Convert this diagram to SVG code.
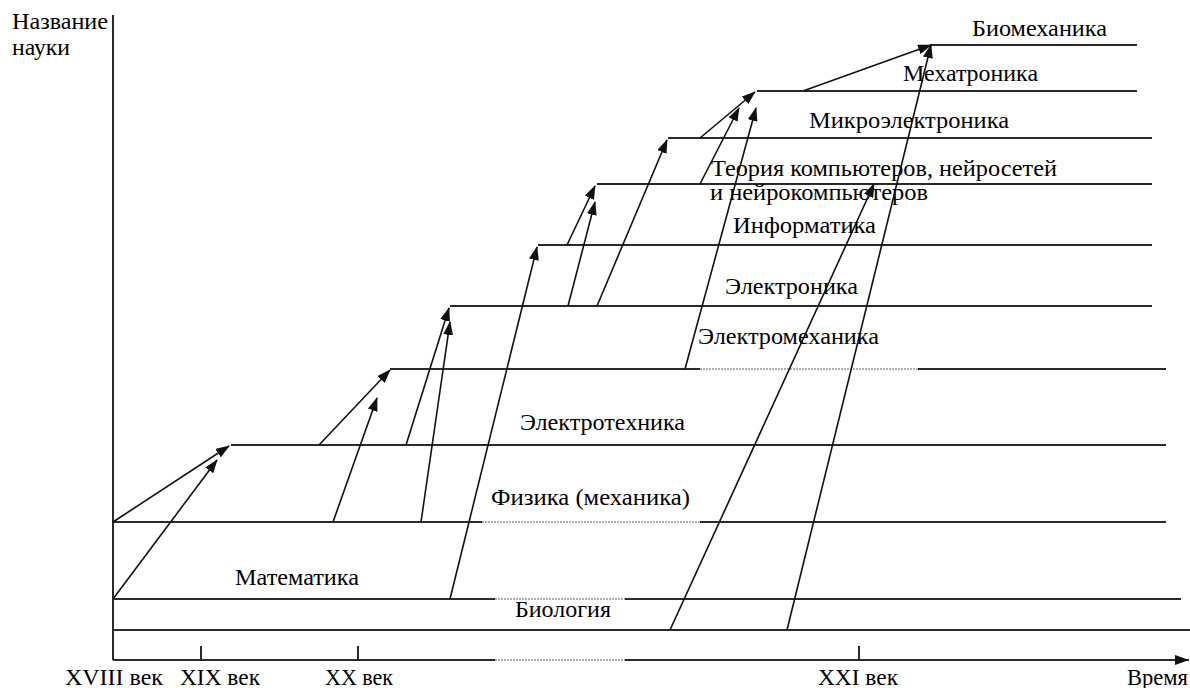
<svg xmlns="http://www.w3.org/2000/svg" width="1190" height="688" viewBox="0 0 1190 688">
<style>
.lvl{stroke:#2a2a2a;stroke-width:2;fill:none}
.faint{stroke:#b0b0b0;stroke-width:2;stroke-dasharray:2 1;fill:none}
.arr{stroke:#111;stroke-width:1.6;fill:none;marker-end:url(#ah)}
.ax{stroke:#2a2a2a;stroke-width:2;fill:none}
text{font-family:"Liberation Serif","Times New Roman",serif;font-size:24px;fill:#000}
</style>
<defs>
<marker id="ah" markerUnits="userSpaceOnUse" markerWidth="14" markerHeight="10" viewBox="0 0 14 10" refX="13" refY="5" orient="auto">
<path d="M0,0 L14,5 L0,10 Z" fill="#111"/>
</marker>
<marker id="axh" markerUnits="userSpaceOnUse" markerWidth="14" markerHeight="10" viewBox="0 0 14 10" refX="14" refY="5" orient="auto">
<path d="M0,0 L14,5 L0,10 Z" fill="#111"/>
</marker>
</defs>
<rect width="1190" height="688" fill="#fff"/>
<g id="axes">
<line class="ax" x1="113" y1="15" x2="113" y2="660"/>
<line class="ax" x1="113" y1="660" x2="495" y2="660"/>
<line class="faint" x1="495" y1="660" x2="625" y2="660"/>
<line class="ax" x1="625" y1="660" x2="1189" y2="660" marker-end="url(#axh)"/>
<line class="ax" x1="201" y1="646" x2="201" y2="660"/>
<line class="ax" x1="358" y1="646" x2="358" y2="660"/>
<line class="ax" x1="859" y1="646" x2="859" y2="660"/>
<text x="12" y="29" textLength="96" lengthAdjust="spacingAndGlyphs">Название</text>
<text x="12" y="55" textLength="58" lengthAdjust="spacingAndGlyphs">науки</text>
<text x="65" y="685" textLength="98" lengthAdjust="spacingAndGlyphs">XVIII век</text>
<text x="180" y="685" textLength="80" lengthAdjust="spacingAndGlyphs">XIX век</text>
<text x="325" y="685" textLength="68" lengthAdjust="spacingAndGlyphs">XX век</text>
<text x="818" y="685" textLength="80" lengthAdjust="spacingAndGlyphs">XXI век</text>
<text x="1127" y="685" textLength="61" lengthAdjust="spacingAndGlyphs">Время</text>
</g>
<g id="biomechanics">
<line class="lvl" x1="930" y1="45" x2="1137" y2="45"/>
<text x="972" y="36" textLength="135" lengthAdjust="spacingAndGlyphs">Биомеханика</text>
</g>
<g id="mechatronics">
<line class="lvl" x1="757" y1="91" x2="1137" y2="91"/>
<text x="903" y="81" textLength="135" lengthAdjust="spacingAndGlyphs">Мехатроника</text>
</g>
<g id="microelectronics">
<line class="lvl" x1="668" y1="138" x2="1152" y2="138"/>
<text x="809" y="128" textLength="200" lengthAdjust="spacingAndGlyphs">Микроэлектроника</text>
</g>
<g id="theory">
<line class="lvl" x1="597" y1="184" x2="1152" y2="184"/>
<text x="711" y="176" textLength="346" lengthAdjust="spacingAndGlyphs">Теория компьютеров, нейросетей</text>
<text x="710" y="200" textLength="218" lengthAdjust="spacingAndGlyphs">и нейрокомпьютеров</text>
</g>
<g id="informatics">
<line class="lvl" x1="538" y1="245" x2="1152" y2="245"/>
<text x="733" y="233" textLength="143" lengthAdjust="spacingAndGlyphs">Информатика</text>
</g>
<g id="electronics">
<line class="lvl" x1="450" y1="306" x2="1152" y2="306"/>
<text x="725" y="294" textLength="133" lengthAdjust="spacingAndGlyphs">Электроника</text>
</g>
<g id="electromechanics">
<line class="lvl" x1="390" y1="369" x2="700" y2="369"/>
<line class="faint" x1="700" y1="369" x2="918" y2="369"/>
<line class="lvl" x1="918" y1="369" x2="1166" y2="369"/>
<text x="698" y="344" textLength="181" lengthAdjust="spacingAndGlyphs">Электромеханика</text>
</g>
<g id="electrotechnics">
<line class="lvl" x1="231" y1="445" x2="1166" y2="445"/>
<text x="520" y="430" textLength="165" lengthAdjust="spacingAndGlyphs">Электротехника</text>
</g>
<g id="physics">
<line class="lvl" x1="113" y1="522" x2="482" y2="522"/>
<line class="faint" x1="482" y1="522" x2="700" y2="522"/>
<line class="lvl" x1="700" y1="522" x2="1166" y2="522"/>
<text x="491" y="505" textLength="199" lengthAdjust="spacingAndGlyphs">Физика (механика)</text>
</g>
<g id="mathematics">
<line class="lvl" x1="113" y1="599" x2="495" y2="599"/>
<line class="faint" x1="495" y1="599" x2="625" y2="599"/>
<line class="lvl" x1="625" y1="599" x2="1181" y2="599"/>
<text x="235" y="585" textLength="124" lengthAdjust="spacingAndGlyphs">Математика</text>
</g>
<g id="biology">
<line class="lvl" x1="113" y1="630" x2="1190" y2="630"/>
<text x="515" y="617" textLength="96" lengthAdjust="spacingAndGlyphs">Биология</text>
</g>
<g id="connectors">
<line class="arr" x1="113" y1="522" x2="229" y2="446"/>
<line class="arr" x1="113" y1="599" x2="217" y2="460"/>
<line class="arr" x1="319" y1="445" x2="390" y2="370"/>
<line class="arr" x1="333" y1="522" x2="377" y2="398"/>
<line class="arr" x1="406" y1="445" x2="449" y2="308"/>
<line class="arr" x1="421" y1="522" x2="450" y2="322"/>
<line class="arr" x1="450" y1="599" x2="537" y2="247"/>
<line class="arr" x1="567" y1="245" x2="595" y2="186"/>
<line class="arr" x1="568" y1="306" x2="595" y2="202"/>
<line class="arr" x1="597" y1="306" x2="667" y2="140"/>
<line class="arr" x1="685" y1="369" x2="756" y2="108"/>
<line class="arr" x1="700" y1="138" x2="755" y2="92"/>
<line class="arr" x1="700" y1="184" x2="739" y2="108"/>
<line class="arr" x1="803" y1="91" x2="931" y2="45"/>
<line class="arr" x1="670" y1="630" x2="874" y2="184"/>
<line class="arr" x1="787" y1="630" x2="931" y2="45"/>
</g>
</svg>
